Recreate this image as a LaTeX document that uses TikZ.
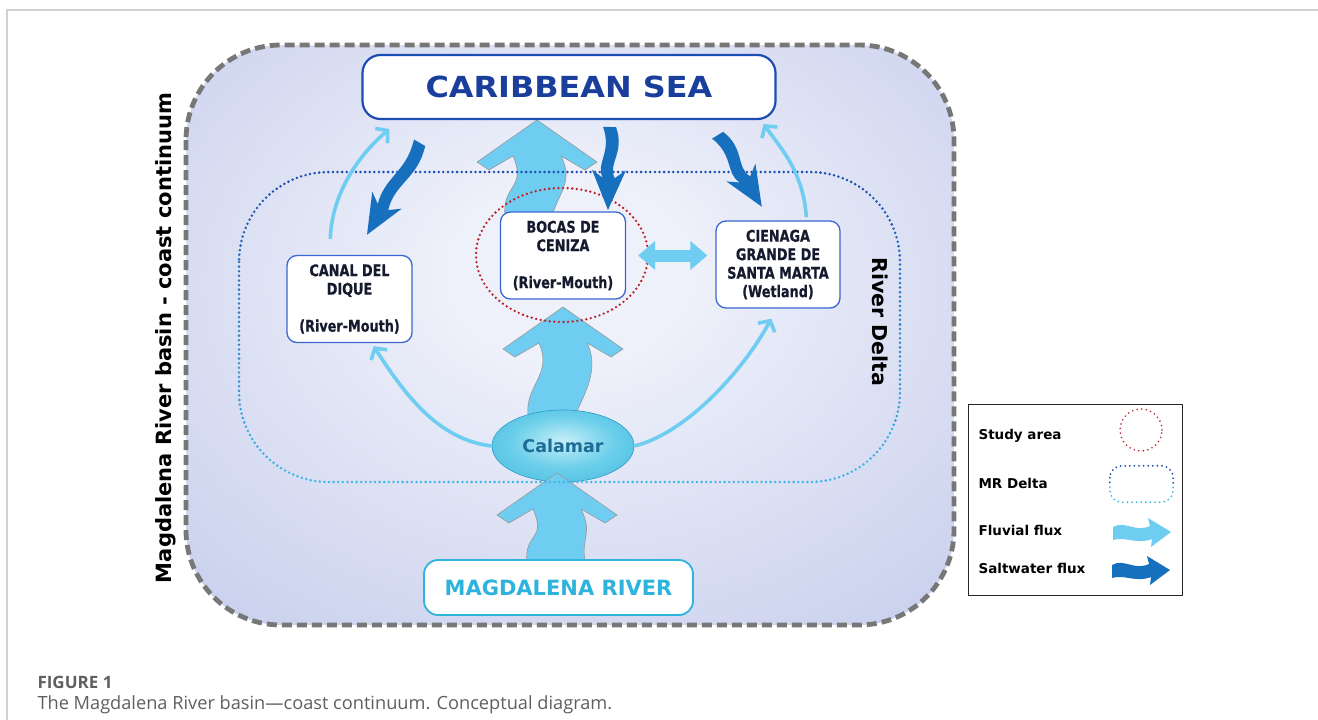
\documentclass[tikz,border=0pt]{standalone}
\usepackage{fontspec}
\setmainfont{DejaVu Sans}
\newfontfamily\narrowfont{DejaVu Sans}[FakeStretch=0.8,FakeBold=0.6]
\newfontfamily\widefont{DejaVu Sans}[FakeStretch=1.1]
\newfontfamily\capfont{Open Sans}
\usetikzlibrary{arrows.meta,positioning,shapes.geometric,calc}
\definecolor{framegray}{HTML}{D0D0D0}
\definecolor{edgegray}{HTML}{777777}
\definecolor{seablue}{HTML}{1D4DB2}
\definecolor{seatext}{HTML}{1A3E9C}
\definecolor{boxblue}{HTML}{3A66D2}
\definecolor{rivercyan}{HTML}{2DB3DC}
\definecolor{fluvial}{HTML}{6ECDF1}
\definecolor{saltwater}{HTML}{1670BE}
\definecolor{studyred}{HTML}{B8232A}
\definecolor{deltatop}{HTML}{1B4DAE}
\definecolor{deltabot}{HTML}{40B8E8}
\definecolor{bgin}{HTML}{EEF0FA}
\definecolor{bgout}{HTML}{C2CAEA}
\definecolor{ink}{HTML}{161A2E}
\definecolor{calin}{HTML}{C6EEF8}
\definecolor{calmid}{HTML}{6CCFEA}
\definecolor{calout}{HTML}{33B0DC}
\definecolor{calrim}{HTML}{2A9CCB}
\definecolor{calamartext}{HTML}{1C6C96}
\definecolor{captiongray}{HTML}{5F5F5F}
\pgfdeclareradialshading{basinglow}{\pgfpoint{0bp}{6bp}}{color(0bp)=(bgin); color(8bp)=(bgin); color(42bp)=(bgout); color(80bp)=(bgout)}
\pgfdeclareradialshading{calamarball}{\pgfpoint{0bp}{4bp}}{color(0bp)=(calin); color(18bp)=(calmid); color(44bp)=(calout); color(50bp)=(calrim)}

\begin{document}
\begin{tikzpicture}[
  x=1pt,y=-1pt,
  line join=round,
  box/.style={draw=boxblue,line width=1.3pt,rounded corners=10pt,fill=white,
              minimum width=125pt,minimum height=87pt,inner sep=0pt,align=center,text=ink,
              font=\narrowfont\bfseries\fontsize{16}{18.5}\selectfont},
  endbox/.style={fill=white,inner sep=0pt},
  calamar/.style={ellipse,shade,shading=calamarball,draw=calrim,line width=.6pt,
                  minimum width=142pt,minimum height=72pt,inner sep=0pt,text=calamartext,
                  font=\bfseries\fontsize{17.5}{20}\selectfont},
  fluxfill/.style={fill=fluvial,draw=gray!80,line width=.6pt},
  thinflux/.style={draw=fluvial,line width=3.6pt,-{Straight Barb[length=8pt,width=19pt]}},
  dotline/.style={line width=2.8pt,line cap=round,dash pattern=on 0pt off 4.6pt},
  keytext/.style={anchor=base west,font=\bfseries\fontsize{13.5}{15}\selectfont},
  pics/bigflux/.style n args={3}{code={
    \filldraw[fluxfill] (0,0) -- (60,42) -- (48,50) -- (24,36)
      .. controls (36,60) and (24,#1-25) .. (#3,#1) -- (#2,#1)
      .. controls (#2-3,#1-30) and (-10,68) .. (-24,36)
      -- (-48,50) -- (-60,42) -- cycle;}},
  pics/saltflux/.style={code={
    \fill[saltwater] (0,-6) .. controls (0.3*#1,-16) and (0.45*#1,2) .. (#1-32,-6)
      -- (#1-40,-17) -- (#1,0) -- (#1-40,17) -- (#1-32,6)
      .. controls (0.45*#1,14) and (0.3*#1,-3) .. (0,7) -- cycle;}},
  pics/keyflux/.style={code={
    \fill[#1] (0,-6) .. controls (12,-13) and (22,0) .. (37,-7) -- (35,-15)
      -- (58,-1) -- (38,14) -- (39,6) .. controls (24,12) and (12,3) .. (0,7) -- cycle;}}
]
\useasboundingbox (0,0) rectangle (1318,720);
\draw[framegray,line width=1.3pt] (7,720) -- (7,10) -- (1318,10);

\node[minimum width=768pt,minimum height=580pt,inner sep=0pt,outer sep=0pt] (basin) at (570,335) {};
\shade[shading=basinglow,rounded corners=95pt] (basin.north west) rectangle (basin.south east);
\draw[edgegray,line width=4.8pt,dash pattern=on 10pt off 5pt,rounded corners=95pt]
  (basin.north west) rectangle (basin.south east);

\node[rotate=90,font=\bfseries\fontsize{21}{24}\selectfont] (basinlabel) at (166,338)
  {Magdalena River basin - coast continuum};
\node[rotate=-90,font=\bfseries\fontsize{20.5}{24}\selectfont] (deltalabel) at (880,322) {River Delta};

\pic at (537,120) {bigflux={95}{-32}{15}};
\pic at (563,307) {bigflux={108}{-35}{12}};
\node[calamar] (calamar) at (563,446) {Calamar};
\pic at (557,473) {bigflux={89}{-30}{28}};

\node[minimum width=661pt,minimum height=310pt,inner sep=0pt,outer sep=0pt] (delta) at (569.5,327) {};
\foreach \k [evaluate=\k as \pct using int(100-\k*11)] in {0,...,9}{
  \begin{scope}
    \clip (150,160+33*\k) rectangle (960,193+33*\k);
    \draw[dotline,draw=deltatop!\pct!deltabot,rounded corners=90pt]
      (delta.north west) rectangle (delta.south east);
  \end{scope}}
\node[draw=studyred,dotline,line width=2.6pt,ellipse,minimum width=172pt,minimum height=134pt]
  (study) at (562,255) {};

\node[box] (bocas) at (563,255.5) {BOCAS DE\\CENIZA\\[18.5pt](River-Mouth)};
\node[box] (canal) at (349.5,299) {CANAL DEL\\DIQUE\\[18.5pt](River-Mouth)};
\node[box,minimum width=124pt] (cienaga) at (778,264.5) {CIENAGA\\GRANDE DE\\SANTA MARTA\\(Wetland)};
\node[endbox,draw=seablue,line width=2.2pt,rounded corners=18pt,minimum width=413pt,
  minimum height=64pt,text=seatext,font=\widefont\bfseries\fontsize{29}{33}\selectfont]
  (sea) at (569,87) {CARIBBEAN SEA};
\node[endbox,draw=rivercyan,line width=1.8pt,rounded corners=14pt,minimum width=269pt,
  minimum height=55pt,text=rivercyan,font=\bfseries\fontsize{21}{24}\selectfont]
  (river) at (558.5,587.5) {MAGDALENA RIVER};

\draw[thinflux] ([xshift=44pt,yshift=16pt]canal.north west) .. controls +(1,-45) and +(-30,25)
  .. ([xshift=28pt,yshift=-9pt]sea.south west);
\draw[thinflux] ([xshift=91pt,yshift=3pt]cienaga.north west) .. controls +(-3,-45) and +(18,25)
  .. ([xshift=-13pt,yshift=-4pt]sea.south east);
\draw[thinflux] (calamar.west) .. controls +(-50,-6) and +(35,55)
  .. ([xshift=-39pt,yshift=-3pt]canal.south east);
\draw[thinflux] (calamar.east) .. controls +(50,-12) and +(-30,55)
  .. ([xshift=56pt,yshift=-10pt]cienaga.south west);
\draw[fluvial,line width=12pt,{Triangle[width=28pt,length=17pt]}-{Triangle[width=28pt,length=17pt]},
  shorten <=12pt,shorten >=8pt] (bocas.east) -- (bocas.east -| cienaga.west);

\pic[rotate=-120] at (420,143) {saltflux=106};
\pic[rotate=-91.4] at (610,127) {saltflux=83};
\pic[rotate=-58.6] at (718,135) {saltflux=84};

\node[draw=black!85,line width=1pt,fill=white,minimum width=214pt,minimum height=191pt,inner sep=0pt]
  (legend) at (1075,499.5) {};
\node[keytext] (keyarea) at (975,439) {Study area};
\node[keytext] (keydelta) at (975,488) {MR Delta};
\node[keytext] (keyfluvial) at (975,535) {Fluvial flux};
\node[keytext] (keysalt) at (975,573) {Saltwater flux};
\node[draw=studyred,dotline,line width=1.8pt,circle,minimum size=42pt,inner sep=0pt] (arearing) at (1141,430) {};
\node[minimum width=63pt,minimum height=36pt,inner sep=0pt] (deltaring) at (1141.5,484) {};
\begin{scope}
  \clip (1100,460) rectangle (1180,484);
  \draw[dotline,line width=2pt,draw=deltatop,rounded corners=12pt] (deltaring.north west) rectangle (deltaring.south east);
\end{scope}
\begin{scope}
  \clip (1100,484) rectangle (1180,510);
  \draw[dotline,line width=2pt,draw=deltabot,rounded corners=12pt] (deltaring.north west) rectangle (deltaring.south east);
\end{scope}
\pic at (1113,533) {keyflux=fluvial};
\pic at (1112,571) {keyflux=saltwater};

\node[anchor=base west,text=captiongray,font=\capfont\bfseries\fontsize{17}{20}\selectfont]
  (figlabel) at (34,688) {FIGURE 1};
\node[anchor=base west,text=captiongray,font=\capfont\fontsize{18.2}{21}\selectfont]
  (figcaption) at (34,709) {The Magdalena River basin—coast continuum. Conceptual diagram.};
\end{tikzpicture}
\end{document}
